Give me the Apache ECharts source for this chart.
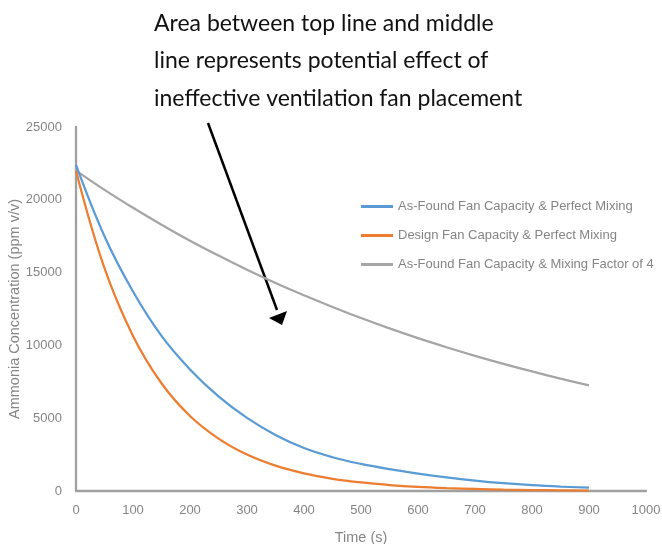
<!DOCTYPE html>
<html>
<head>
<meta charset="utf-8">
<script src="https://cdn.jsdelivr.net/npm/echarts@6/dist/echarts.min.js"></script>
<style>
  html, body { margin: 0; padding: 0; background: #fff; }
  #chart { width: 662px; height: 544px; }
</style>
</head>
<body>
<div id="chart"></div>
<script>
  // time axis (s) and concentrations (ppm v/v)
  const times = [0, 50, 100, 150, 200, 250, 300, 350, 400, 450, 500, 550, 600, 650, 700, 750, 800, 850, 900]
  const asFoundPerfect = [22400, 17500, 13700, 10650, 8350, 6500, 5020, 3850, 2950, 2320, 1860, 1500, 1200, 940, 720, 540, 400, 300, 230]
  const designPerfect = [22000, 15300, 10650, 7400, 5150, 3600, 2500, 1740, 1210, 840, 585, 410, 285, 200, 140, 95, 65, 45, 32]
  const asFoundFactor4 = [22000, 20680, 19450, 18290, 17190, 16170, 15200, 14290, 13440, 12640, 11880, 11170, 10500, 9875, 9285, 8730, 8210, 7720, 7260]
  const seriesNames = [
    'As-Found Fan Capacity & Perfect Mixing',
    'Design Fan Capacity & Perfect Mixing',
    'As-Found Fan Capacity & Mixing Factor of 4'
  ]
  const colors = ['#5b9bd5', '#ed7d31', '#a5a5a5']
  const noteLines = [
    'Area between top line and middle',
    'line represents potential effect of',
    'ineffective ventilation fan placement'
  ]

  const pairs = vals => times.map((t, i) => [t, vals[i]])
  const labelGray = '#858585'

  const chart = echarts.init(document.getElementById('chart'))

  chart.setOption({
    animation: false,
    color: colors,
    textStyle: { fontFamily: 'Liberation Sans, Arial, sans-serif' },
    grid: { left: 76, right: 16, top: 127, bottom: 53, outerBoundsMode: 'none', containLabel: false },
    legend: {
      orient: 'vertical',
      left: 356,
      top: 195,
      itemWidth: 32,
      itemHeight: 3,
      itemGap: 16,
      icon: 'rect',
      textStyle: { color: labelGray, fontSize: 13 },
      data: seriesNames
    },
    xAxis: {
      type: 'value',
      min: 0,
      max: 1000,
      interval: 100,
      name: 'Time (s)',
      nameLocation: 'middle',
      nameGap: 39,
      nameMoveOverlap: false,
      nameTextStyle: { color: labelGray, fontSize: 14.5 },
      axisLine: { lineStyle: { color: '#a0a0a0', width: 2.3 } },
      axisTick: { show: false },
      splitLine: { show: false },
      axisLabel: { color: labelGray, fontSize: 13, margin: 13, formatter: v => String(v) }
    },
    yAxis: {
      type: 'value',
      min: 0,
      max: 25000,
      interval: 5000,
      name: 'Ammonia Concentration (ppm v/v)',
      nameLocation: 'middle',
      nameGap: 54,
      nameMoveOverlap: false,
      nameTextStyle: { color: labelGray, fontSize: 14.5 },
      axisLine: { show: true, lineStyle: { color: '#a0a0a0', width: 2.3 } },
      axisTick: { show: false },
      splitLine: { show: false },
      axisLabel: { color: labelGray, fontSize: 13, margin: 14, formatter: v => String(v) }
    },
    series: [asFoundPerfect, designPerfect, asFoundFactor4].map((vals, i) => ({
      name: seriesNames[i],
      type: 'line',
      data: pairs(vals),
      smooth: 0.4,
      showSymbol: false,
      lineStyle: { width: 2.25, color: colors[i] },
      z: 3 - i
    })),
    graphic: [
      ...noteLines.map((txt, i) => ({
        type: 'text',
        left: 154,
        top: 12 + i * 37.5,
        style: { text: txt, fill: '#111', font: '23px Lato, sans-serif' }
      })),
      {
        type: 'line',
        shape: { x1: 208, y1: 123, x2: 277, y2: 310 },
        style: { stroke: '#000', lineWidth: 2.5 }
      },
      {
        type: 'polygon',
        shape: { points: [[269, 318], [287, 311], [282, 325]] },
        style: { fill: '#000' }
      }
    ]
  })
</script>
</body>
</html>
